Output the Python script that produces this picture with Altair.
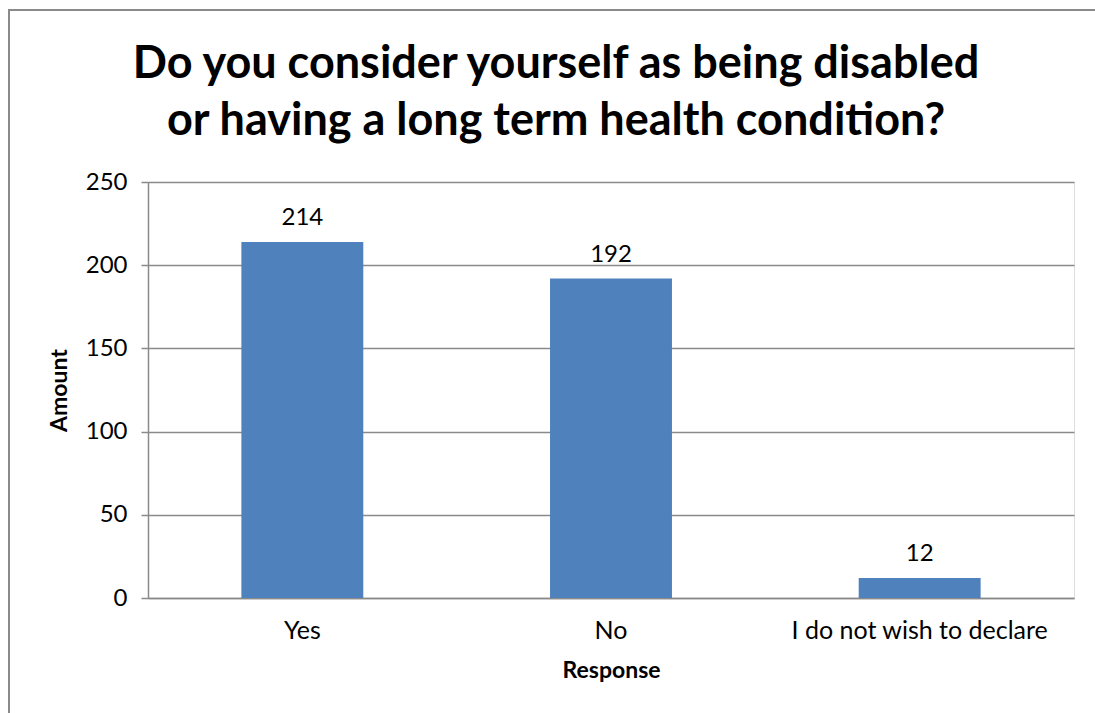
import altair as alt
import pandas as pd

categories = ["Yes", "No", "I do not wish to declare"]
amounts = [214, 192, 12]
title_lines = ["Do you consider yourself as being disabled",
               "or having a long term health condition?"]

df = pd.DataFrame({"Response": categories, "Amount": amounts})
title_df = pd.DataFrame({"line": title_lines, "row": [0, 1]})

FONT = "Lato"
GRID = "#8a8a8a"

x_enc = alt.X("Response:N", sort=categories,
              scale=alt.Scale(paddingInner=0.605, paddingOuter=0.3025),
              axis=alt.Axis(title="Response", labelAngle=0, labelFontSize=25,
                            labelFont=FONT, labelColor="#000", labelPadding=20,
                            labelLimit=0,
                            titleFont=FONT, titleFontSize=23, titleFontWeight="bold",
                            titleColor="#000", titlePadding=16, ticks=False,
                            domainColor=GRID, domainWidth=1.5, grid=False))
y_enc = alt.Y("Amount:Q", scale=alt.Scale(domain=[0, 250], nice=False),
              axis=alt.Axis(title="Amount", values=[0, 50, 100, 150, 200, 250],
                            labelFontSize=24, labelFont=FONT, labelColor="#000",
                            labelPadding=14, tickSize=7, tickColor=GRID, tickWidth=1.5,
                            domainColor=GRID, domainWidth=1.5,
                            gridColor=GRID, gridWidth=1.5,
                            titleFont=FONT, titleFontSize=23, titleFontWeight="bold",
                            titleColor="#000", titlePadding=14))

bars = alt.Chart(df).mark_bar(color="#4F81BD").encode(x=x_enc, y=y_enc)
labels = alt.Chart(df).mark_text(dy=-12, baseline="bottom", fontSize=24,
                                 font=FONT, color="#000").encode(
    x=alt.X("Response:N", sort=categories), y="Amount:Q", text="Amount:Q")

border = alt.Chart(df).mark_rect(fill=None, stroke="#8a8a8a", strokeWidth=2).encode(
    x=alt.value(-139), x2=alt.value(960), y=alt.value(-172), y2=alt.value(545))

def title_line(i, ypix):
    return alt.Chart(title_df).transform_filter(alt.datum.row == i).mark_text(
        fontSize=45, fontWeight="bold", font=FONT, color="#000",
        baseline="alphabetic", align="center").encode(
        x=alt.value(408), y=alt.value(ypix), text="line:N")

chart = alt.layer(border, bars, labels, title_line(0, -104), title_line(1, -47)).properties(
    width=926, height=416,
    autosize=alt.AutoSizeParams(type="none"),
    padding={"left": 148, "top": 182, "right": 21, "bottom": 115},
).configure_view(stroke=None).configure(background="white")

chart.save("out.html", embed_options={"renderer": "svg", "actions": False})
